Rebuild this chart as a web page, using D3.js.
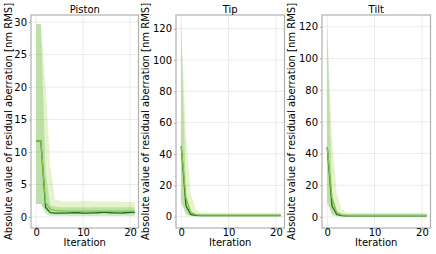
<!DOCTYPE html>
<meta charset="utf-8">
<style>
  body { margin: 0; background: #fff; }
  text { font-family: "DejaVu Sans", sans-serif; fill: #000; }
</style>
<svg id="mainsvg" width="436" height="254"></svg>
<script src="https://d3js.org/d3.v7.min.js"></script>
<script>

const iterations = d3.range(0, 22)

const panelNames = ["Piston", "Tip", "Tilt"]
const yTicks = [[0, 5, 10, 15, 20, 25, 30], [0, 20, 40, 60, 80, 100, 120], [0, 20, 40, 60, 80, 100, 120]]
const xTicks = [0, 10, 20]

// dark green series: mean and band
const pistonDark   = [11.7, 11.7, 1.5, 0.65, 0.6, 0.6, 0.6, 0.62, 0.65, 0.65, 0.6, 0.6, 0.62, 0.65, 0.7, 0.7, 0.65, 0.62, 0.6, 0.65, 0.7, 0.7]
const pistonDarkLo = [2.0, 2.0, 0.5, 0.2, 0.15, 0.15, 0.15, 0.15, 0.15, 0.15, 0.15, 0.15, 0.15, 0.15, 0.15, 0.15, 0.15, 0.15, 0.15, 0.15, 0.15, 0.15]
const pistonDarkHi = [29.7, 29.7, 7.0, 1.8, 1.6, 1.5, 1.5, 1.5, 1.5, 1.5, 1.5, 1.5, 1.5, 1.5, 1.5, 1.5, 1.5, 1.5, 1.5, 1.5, 1.5, 1.5]
// light green series: mean and band
const pistonLight   = [11.7, 11.7, 2.2, 1.2, 1.0, 0.95, 0.9, 0.9, 0.9, 0.9, 0.9, 0.9, 0.9, 0.9, 0.9, 0.9, 0.9, 0.9, 0.9, 0.9, 0.9, 0.9]
const pistonLightLo = [2.0, 2.0, 0.9, 0.55, 0.45, 0.4, 0.4, 0.4, 0.4, 0.4, 0.4, 0.4, 0.4, 0.4, 0.4, 0.4, 0.4, 0.4, 0.4, 0.4, 0.4, 0.4]
const pistonLightHi = [29.7, 29.7, 20.0, 8.0, 2.7, 2.5, 2.4, 2.4, 2.4, 2.4, 2.5, 2.5, 2.4, 2.4, 2.4, 2.4, 2.4, 2.4, 2.4, 2.3, 2.3, 2.3]

const tipDark   = [45, 7, 1.5, 0.8, 0.7, 0.7, 0.7, 0.7, 0.7, 0.7, 0.7, 0.7, 0.7, 0.7, 0.7, 0.7, 0.7, 0.7, 0.7, 0.7, 0.7, 0.7]
const tipDarkLo = [10, 1.0, 0.3, 0.2, 0.2, 0.2, 0.2, 0.2, 0.2, 0.2, 0.2, 0.2, 0.2, 0.2, 0.2, 0.2, 0.2, 0.2, 0.2, 0.2, 0.2, 0.2]
const tipDarkHi = [123, 15, 3.0, 2.0, 1.8, 1.8, 1.8, 1.8, 1.8, 1.8, 1.8, 1.8, 1.8, 1.8, 1.8, 1.8, 1.8, 1.8, 1.8, 1.8, 1.8, 1.8]
const tipLight   = [45, 12, 3.0, 1.3, 1.1, 1.0, 1.0, 1.0, 1.0, 1.0, 1.0, 1.0, 1.0, 1.0, 1.0, 1.0, 1.0, 1.0, 1.0, 1.0, 1.0, 1.0]
const tipLightLo = [8, 2.0, 0.6, 0.4, 0.4, 0.4, 0.4, 0.4, 0.4, 0.4, 0.4, 0.4, 0.4, 0.4, 0.4, 0.4, 0.4, 0.4, 0.4, 0.4, 0.4, 0.4]
const tipLightHi = [123, 52, 15, 5, 2.8, 2.6, 2.6, 2.6, 2.6, 2.6, 2.6, 2.6, 2.6, 2.6, 2.6, 2.6, 2.6, 2.6, 2.6, 2.6, 2.6, 2.6]

const tiltDark   = [44, 7, 1.5, 0.8, 0.7, 0.7, 0.7, 0.7, 0.7, 0.7, 0.7, 0.7, 0.7, 0.7, 0.7, 0.7, 0.7, 0.7, 0.7, 0.7, 0.7, 0.7]
const tiltDarkLo = [10, 1.0, 0.3, 0.2, 0.2, 0.2, 0.2, 0.2, 0.2, 0.2, 0.2, 0.2, 0.2, 0.2, 0.2, 0.2, 0.2, 0.2, 0.2, 0.2, 0.2, 0.2]
const tiltDarkHi = [121, 15, 3.0, 2.0, 1.8, 1.8, 1.8, 1.8, 1.8, 1.8, 1.8, 1.8, 1.8, 1.8, 1.8, 1.8, 1.8, 1.8, 1.8, 1.8, 1.8, 1.8]
const tiltLight   = [44, 12, 3.0, 1.3, 1.1, 1.0, 1.0, 1.0, 1.0, 1.0, 1.0, 1.0, 1.0, 1.0, 1.0, 1.0, 1.0, 1.0, 1.0, 1.0, 1.0, 1.0]
const tiltLightLo = [8, 2.0, 0.6, 0.4, 0.4, 0.4, 0.4, 0.4, 0.4, 0.4, 0.4, 0.4, 0.4, 0.4, 0.4, 0.4, 0.4, 0.4, 0.4, 0.4, 0.4, 0.4]
const tiltLightHi = [121, 50, 15, 5, 2.8, 2.6, 2.6, 2.6, 2.6, 2.6, 2.6, 2.6, 2.6, 2.6, 2.6, 2.6, 2.6, 2.6, 2.6, 2.6, 2.6, 2.6]

const panels = [
  {dark: pistonDark, darkLo: pistonDarkLo, darkHi: pistonDarkHi, light: pistonLight, lightLo: pistonLightLo, lightHi: pistonLightHi,
   x0: 31, x1: 138.5, ydom: [-1.7, 31.1], labelOff: 19},
  {dark: tipDark, darkLo: tipDarkLo, darkHi: tipDarkHi, light: tipLight, lightLo: tipLightLo, lightHi: tipLightHi,
   x0: 176, x1: 284.5, ydom: [-7.2, 128.7], labelOff: 27},
  {dark: tiltDark, darkLo: tiltDarkLo, darkHi: tiltDarkHi, light: tiltLight, lightLo: tiltLightLo, lightHi: tiltLightHi,
   x0: 322, x1: 430.5, ydom: [-7.0, 127.4], labelOff: 27}
]

const plotTop = 15, plotBottom = 228
const svg = d3.select("#mainsvg")

panels.forEach((p, k) => {
  const x = d3.scaleLinear().domain([-1.1, 21.8]).range([p.x0, p.x1])
  const y = d3.scaleLinear().domain(p.ydom).range([plotBottom, plotTop])
  const g = svg.append("g")

  // grid
  g.append("g").selectAll("line").data(yTicks[k]).join("line")
    .attr("x1", p.x0).attr("x2", p.x1)
    .attr("y1", d => y(d)).attr("y2", d => y(d))
    .attr("stroke", "#e6e6e6").attr("stroke-width", 0.8)
  g.append("g").selectAll("line").data(xTicks).join("line")
    .attr("y1", plotTop).attr("y2", plotBottom)
    .attr("x1", d => x(d)).attr("x2", d => x(d))
    .attr("stroke", "#e6e6e6").attr("stroke-width", 0.8)

  const area = (lo, hi) => d3.area()
    .x((d, i) => x(iterations[i]))
    .y0((d, i) => y(lo[i])).y1((d, i) => y(hi[i]))(iterations)
  const line = arr => d3.line()
    .x((d, i) => x(iterations[i])).y((d, i) => y(arr[i]))(iterations)

  g.append("path").attr("d", area(p.lightLo, p.lightHi))
    .attr("fill", "#9acd32").attr("fill-opacity", 0.25)
  g.append("path").attr("d", area(p.darkLo, p.darkHi))
    .attr("fill", "#2ca02c").attr("fill-opacity", 0.22)
  g.append("path").attr("d", line(p.dark))
    .attr("fill", "none").attr("stroke", "#1a6e1a").attr("stroke-width", 1.3)
  g.append("path").attr("d", line(p.light))
    .attr("fill", "none").attr("stroke", "#86c440").attr("stroke-width", 1.3)

  // frame
  g.append("rect").attr("x", p.x0).attr("y", plotTop)
    .attr("width", p.x1 - p.x0).attr("height", plotBottom - plotTop)
    .attr("fill", "none").attr("stroke", "#b0b0b0").attr("stroke-width", 1.2)

  // ticks
  const yAxis = g.append("g").attr("transform", `translate(${p.x0},0)`)
    .call(d3.axisLeft(y).tickValues(yTicks[k]).tickSize(2).tickPadding(2))
  const xAxis = g.append("g").attr("transform", `translate(0,${plotBottom})`)
    .call(d3.axisBottom(x).tickValues(xTicks).tickSize(2).tickPadding(0))
  ;[yAxis, xAxis].forEach(a => {
    a.select(".domain").remove()
    a.selectAll(".tick line").attr("stroke", "#b0b0b0")
    a.selectAll(".tick text").attr("font-size", 10).attr("font-family", "DejaVu Sans").attr("fill", "#000")
  })
  xAxis.selectAll(".tick text").attr("y", 1.2)

  g.append("text").attr("x", (p.x0 + p.x1) / 2).attr("y", 12.5)
    .attr("text-anchor", "middle").attr("font-size", 10).text(panelNames[k])
  g.append("text").attr("x", (p.x0 + p.x1) / 2).attr("y", 246.3)
    .attr("text-anchor", "middle").attr("font-size", 10).text("Iteration")
  g.append("text")
    .attr("transform", `translate(${p.x0 - p.labelOff},${(plotTop + plotBottom) / 2}) rotate(-90)`)
    .attr("text-anchor", "middle").attr("font-size", 10)
    .text("Absolute value of residual aberration [nm RMS]")
})

</script>
